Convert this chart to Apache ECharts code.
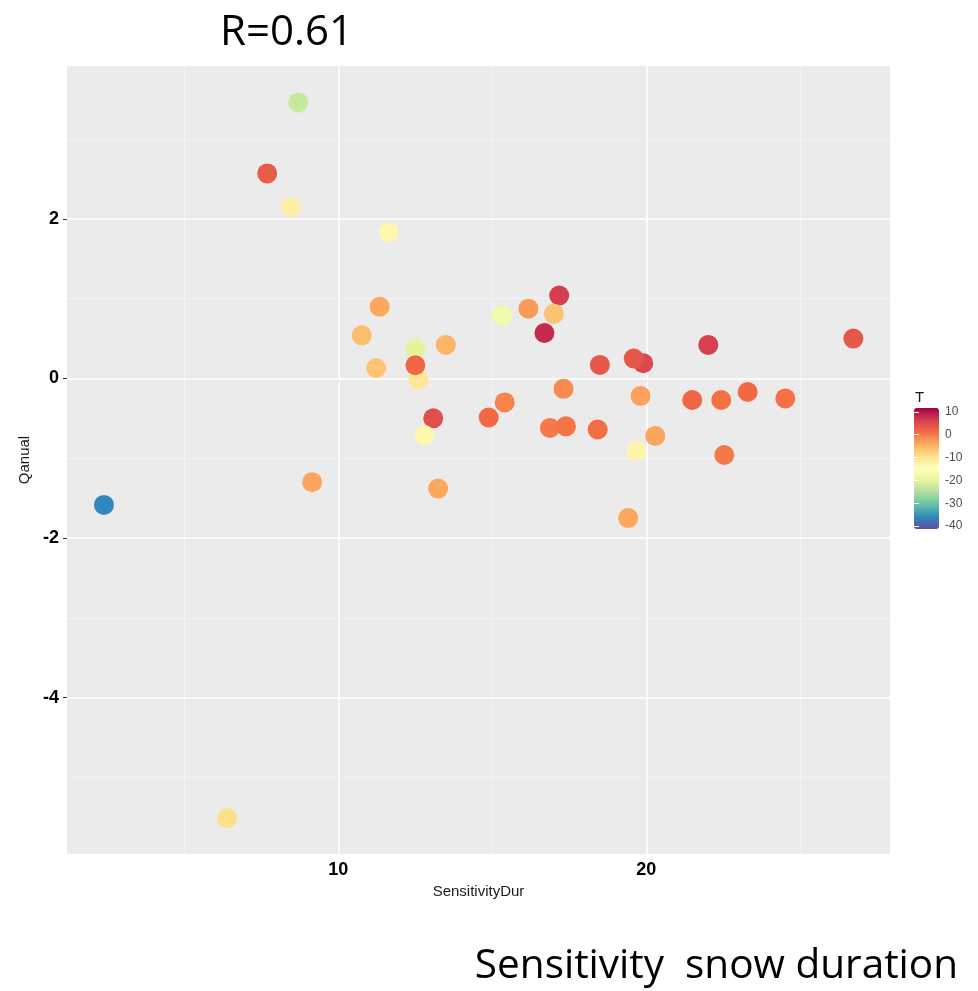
<!DOCTYPE html>
<html>
<head>
<meta charset="utf-8">
<script src="https://cdn.jsdelivr.net/npm/echarts@6/dist/echarts.min.js"></script>
<style>html,body{margin:0;padding:0;background:#fff;}#c{width:978px;height:991px;}</style>
</head>
<body>
<div id="c"></div>
<script>
// ---- data ----
const sensDur = [8.70, 7.69, 8.46, 11.64, 11.34, 10.76, 12.51, 12.60, 13.49, 11.23, 12.50, 13.08, 12.80, 13.24, 15.31, 14.88, 15.40, 17.17, 16.17, 17.00, 16.69, 18.49, 19.90, 19.59, 17.31, 19.81, 16.87, 17.39, 18.42, 20.29, 19.68, 19.41, 22.01, 26.72, 21.49, 22.43, 23.29, 24.51, 22.53, 2.39, 9.15, 6.39];
const qanual  = [3.46, 2.57, 2.15, 1.83, 0.90, 0.54, 0.37, -0.01, 0.42, 0.13, 0.165, -0.50, -0.71, -1.38, 0.79, -0.49, -0.30, 1.04, 0.875, 0.81, 0.57, 0.17, 0.19, 0.25, -0.13, -0.22, -0.62, -0.60, -0.64, -0.72, -0.91, -1.75, 0.42, 0.50, -0.27, -0.27, -0.17, -0.25, -0.96, -1.585, -1.30, -5.51];
const tempT   = [-23, 3, -12, -13.3, -3.7, -5.8, -20, -10.7, -4.8, -6.5, 1.8, 4.5, -13.3, -3.6, -17.6, 1.5, -0.7, 6.4, -2.6, -6.4, 8.1, 3.6, 5.2, 3.6, -1.3, -3.1, 0, 0.5, 1.1, -3.5, -13, -3.6, 6.2, 3.6, 1.8, 0.9, 1.4, 0.8, 0, -36, -3.5, -9.5];
const xTickLabels = [10, 20];
const yTickLabels = [-4, -2, 0, 2];
const xMajorGrid = [10, 20];
const xMinorGrid = [5, 15, 25];
const yMajorGrid = [-4, -2, 0, 2];
const yMinorGrid = [-5, -3, -1, 1, 3];
const legendTicks = [-40, -30, -20, -10, 0, 10];
const tRange = [-41.3, 11.7];
const spectral = ['#5e4fa2','#3288bd','#66c2a5','#abdda4','#e6f598','#ffffbf','#fee08b','#fdae61','#f46d43','#d53e4f','#9e0142'];

const points = sensDur.map((x, i) => [x, qanual[i], tempT[i]]);

const gridLines = [];
xMajorGrid.forEach(v => gridLines.push({xAxis: v, lineStyle: {color: '#ffffff', width: 1.6, type: 'solid'}}));
xMinorGrid.forEach(v => gridLines.push({xAxis: v, lineStyle: {color: '#f4f4f4', width: 0.9, type: 'solid'}}));
yMajorGrid.forEach(v => gridLines.push({yAxis: v, lineStyle: {color: '#ffffff', width: 1.6, type: 'solid'}}));
yMinorGrid.forEach(v => gridLines.push({yAxis: v, lineStyle: {color: '#f4f4f4', width: 0.9, type: 'solid'}}));

const chart = echarts.init(document.getElementById('c'), null, {renderer: 'canvas'});
const FONT = '"Liberation Sans", Arial, sans-serif';
chart.setOption({
  animation: false,
  backgroundColor: '#ffffff',
  grid: [
    {left: 67, top: 66, width: 823, height: 788, show: true, backgroundColor: '#ebebeb', borderWidth: 0, containLabel: false},
    {left: 914, top: 408, width: 25, height: 121, show: false, containLabel: false}
  ],
  xAxis: [
    {
      type: 'value', gridIndex: 0, min: 1.19, max: 27.91,
      name: 'SensitivityDur', nameLocation: 'middle', nameGap: 24,
      nameTextStyle: {fontFamily: FONT, fontSize: 15, color: '#1a1a1a'},
      axisLine: {show: false},
      axisTick: {show: true, length: 4, lineStyle: {color: '#333333', width: 1}, customValues: xTickLabels},
      axisLabel: {customValues: xTickLabels, fontFamily: FONT, fontSize: 18, fontWeight: 'bold', color: '#000000', margin: 7},
      splitLine: {show: false}
    },
    {type: 'value', gridIndex: 1, min: 0, max: 1, show: false}
  ],
  yAxis: [
    {
      type: 'value', gridIndex: 0, min: -5.96, max: 3.916,
      name: 'Qanual', nameLocation: 'middle', nameGap: 31, nameRotate: 90,
      nameTextStyle: {fontFamily: FONT, fontSize: 15, color: '#1a1a1a'},
      axisLine: {show: false},
      axisTick: {show: true, length: 4, lineStyle: {color: '#333333', width: 1}, customValues: yTickLabels},
      axisLabel: {customValues: yTickLabels, fontFamily: FONT, fontSize: 18, fontWeight: 'bold', color: '#000000', margin: 8},
      splitLine: {show: false}
    },
    {
      type: 'value', gridIndex: 1, min: tRange[0], max: tRange[1], position: 'right',
      axisLine: {show: false},
      axisTick: {show: true, inside: true, length: 5, lineStyle: {color: '#ffffff', width: 1}, customValues: legendTicks},
      axisLabel: {customValues: legendTicks, fontFamily: FONT, fontSize: 12, color: '#4d4d4d', margin: 6},
      splitLine: {show: false}, z: 10
    },
    {
      type: 'value', gridIndex: 1, min: tRange[0], max: tRange[1], position: 'left',
      axisLine: {show: false},
      axisTick: {show: true, inside: true, length: 5, lineStyle: {color: '#ffffff', width: 1}, customValues: legendTicks},
      axisLabel: {show: false},
      splitLine: {show: false}, z: 10
    }
  ],
  visualMap: {
    type: 'continuous', seriesIndex: 1, dimension: 2,
    min: tRange[0], max: tRange[1],
    left: 914, top: 408, itemWidth: 25, itemHeight: 121, padding: 0,
    calculable: false, text: null, showLabel: false,
    inRange: {color: spectral}
  },
  graphic: [
    {type: 'text', left: 220, top: 12, style: {text: 'R=0.61', font: '42px "Open Sans", sans-serif', fill: '#000000'}},
    {type: 'text', right: 20, top: 946, style: {text: 'Sensitivity  snow duration', font: '40.5px "Open Sans", sans-serif', fill: '#000000'}},
    {type: 'text', left: 915, top: 390, style: {text: 'T', font: '15px "Liberation Sans", sans-serif', fill: '#1a1a1a'}}
  ],
  series: [
    {
      type: 'scatter', xAxisIndex: 0, yAxisIndex: 0, data: [], silent: true,
      markLine: {silent: true, symbol: 'none', z: 1, label: {show: false}, animation: false, data: gridLines}
    },
    {
      type: 'scatter', xAxisIndex: 0, yAxisIndex: 0, z: 3,
      symbol: 'circle', symbolSize: 20,
      itemStyle: {opacity: 1},
      data: points
    }
  ]
});
</script>
</body>
</html>
